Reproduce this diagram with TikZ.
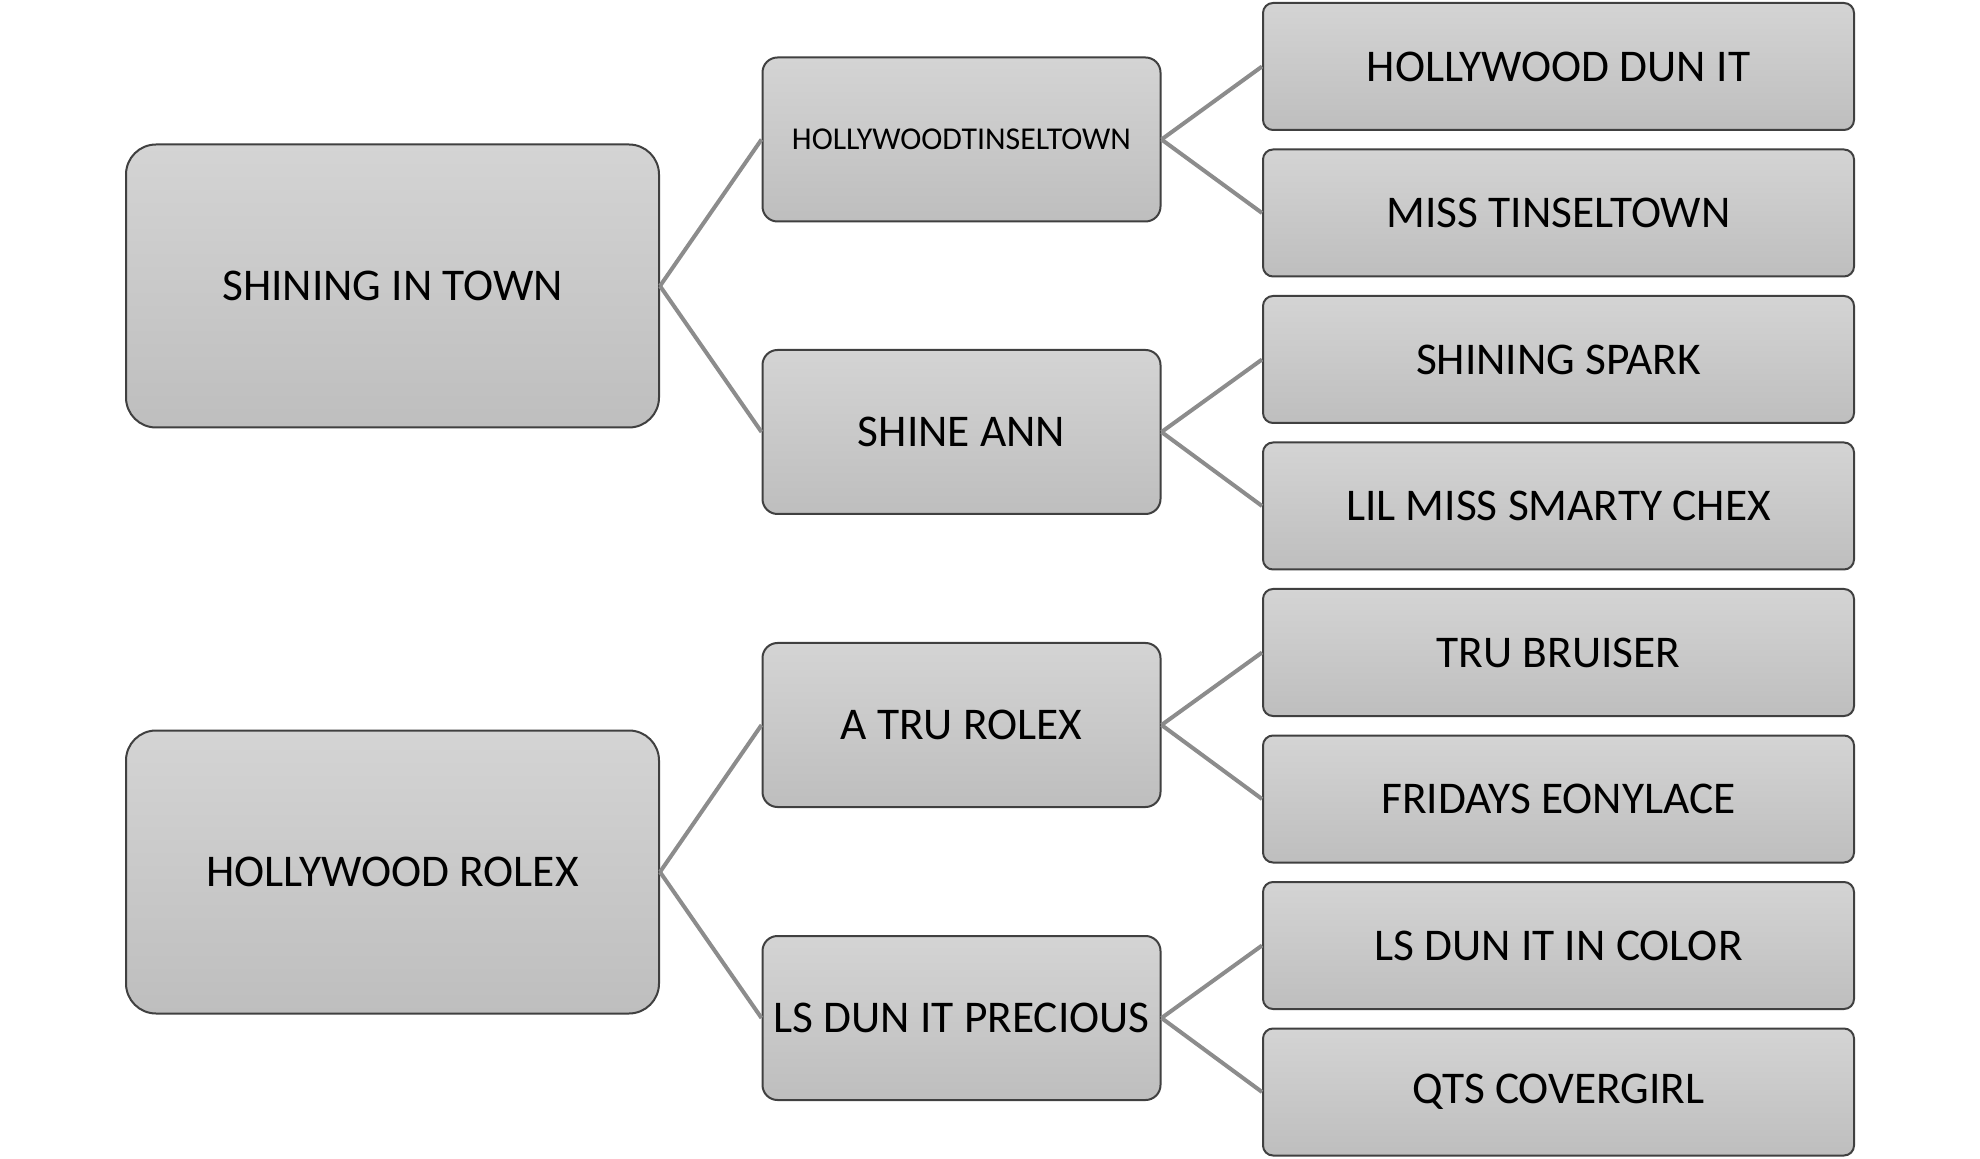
\documentclass[tikz,border=0pt]{standalone}
\usepackage{fontspec}
\setmainfont{Carlito}
\definecolor{boxtop}{HTML}{D4D4D4}
\definecolor{boxbot}{HTML}{BEBEBE}
\definecolor{boxline}{HTML}{404040}
\definecolor{linkgray}{HTML}{8C8C8C}
\tikzset{
  base/.style={draw=boxline, line width=1pt, top color=boxtop, bottom color=boxbot, align=center, inner sep=0pt, text=black},
  rootbox/.style={base, rounded corners=15pt, minimum width=266.5pt, minimum height=141.5pt, font=\fontsize{22.7}{27}\selectfont},
  midbox/.style={base, rounded corners=7.5pt, minimum width=199pt, minimum height=82pt, font=\fontsize{22.7}{27}\selectfont},
  leafbox/.style={base, rounded corners=5pt, minimum width=295.5pt, minimum height=63.5pt, font=\fontsize{22.7}{27}\selectfont},
  link/.style={draw=linkgray, line width=2pt}
}
\begin{document}
\begin{tikzpicture}[x=0.5pt, y=-0.5pt]
\useasboundingbox (0,0) rectangle (1980,1159);
\fill[white] (0,0) rectangle (1980,1159);
% roots
\node[rootbox] (r1) at (392.5,286) {SHINING IN TOWN};
\node[rootbox] (r2) at (392.5,872) {HOLLYWOOD ROLEX};
% middle
\node[midbox, font=\fontsize{15.9}{19}\selectfont] (m1) at (961.5,139.5) {HOLLYWOODTINSELTOWN};
\node[midbox] (m2) at (961.5,432) {SHINE ANN};
\node[midbox] (m3) at (961.5,725) {A TRU ROLEX};
\node[midbox] (m4) at (961.5,1018) {LS DUN IT PRECIOUS};
% leaves
\node[leafbox] (l1) at (1558.5,66.5) {HOLLYWOOD DUN IT};
\node[leafbox] (l2) at (1558.5,213) {MISS TINSELTOWN};
\node[leafbox] (l3) at (1558.5,359.5) {SHINING SPARK};
\node[leafbox] (l4) at (1558.5,506) {LIL MISS SMARTY CHEX};
\node[leafbox] (l5) at (1558.5,652.5) {TRU BRUISER};
\node[leafbox] (l6) at (1558.5,799) {FRIDAYS EONYLACE};
\node[leafbox] (l7) at (1558.5,945.5) {LS DUN IT IN COLOR};
\node[leafbox] (l8) at (1558.5,1092) {QTS COVERGIRL};
% connectors
\draw[link] (r1.east) -- (m1.west);
\draw[link] (r1.east) -- (m2.west);
\draw[link] (r2.east) -- (m3.west);
\draw[link] (r2.east) -- (m4.west);
\draw[link] (m1.east) -- (l1.west);
\draw[link] (m1.east) -- (l2.west);
\draw[link] (m2.east) -- (l3.west);
\draw[link] (m2.east) -- (l4.west);
\draw[link] (m3.east) -- (l5.west);
\draw[link] (m3.east) -- (l6.west);
\draw[link] (m4.east) -- (l7.west);
\draw[link] (m4.east) -- (l8.west);
\end{tikzpicture}
\end{document}
